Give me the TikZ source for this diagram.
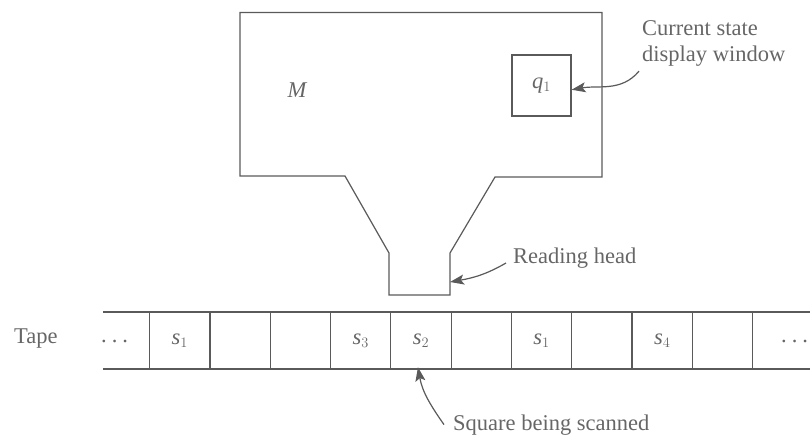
\documentclass[tikz,border=0pt]{standalone}
\usepackage{fontspec}
\setmainfont{Liberation Serif}
\usetikzlibrary{arrows.meta,positioning}
\definecolor{ink}{HTML}{5A5A5A}
\definecolor{print}{HTML}{666666}

\begin{document}
\begin{tikzpicture}[
  x=1pt, y=-1pt,
  outline/.style={draw=ink, line width=1.2pt, line join=miter},
  cell/.style={draw=ink, line width=1.2pt, anchor=north west, inner sep=0pt,
    minimum width=60.3pt, minimum height=57pt, text=print},
  label/.style={text=print, font=\fontsize{22.5}{26}\selectfont, inner sep=1pt},
  pointer/.style={draw=ink, line width=1.2pt, -{Stealth[length=14pt, width=10pt, inset=3pt]}}
]
\useasboundingbox (0,0) rectangle (810,437);

\draw[outline] (240,12.5) -- (602,12.5) -- (602,177) -- (495,177) -- (450,253)
  -- (450,295) -- (389,295) -- (389,253) -- (345,176) -- (240,176) -- cycle;
\coordinate (headtip) at (450,282);

\node[label, font=\fontsize{22.5}{26}\selectfont\itshape] (machine) at (297,90) {M};
\node[outline, minimum width=59pt, minimum height=61pt, inner sep=0pt,
  label, draw=ink] (state) at (541.5,85.5) {\textit{q}$_1$};

\draw[outline] (103,312) -- (810,312);
\draw[outline] (103,369) -- (810,369);
\foreach \sym [count=\i from 0] in {{\textit{s}$_1$},{},{},{\textit{s}$_3$},{\textit{s}$_2$},{},{\textit{s}$_1$},{},{\textit{s}$_4$},{}}
  \node[cell, font=\fontsize{22.5}{26}\selectfont] (c\i) at ({149+60.3*\i},312) {\sym};

\node[label, anchor=base west] (tapelabel) at (13,343) {Tape};
\node[label, anchor=base west] (ldots) at (100,342) {.\hspace{5pt}.\hspace{5pt}.};
\node[label, anchor=base west] (rdots) at (780,342) {.\hspace{5pt}.\hspace{5pt}.};

\node[label, anchor=north west, align=left, font=\fontsize{22.5}{26}\selectfont]
  (current) at (641,19) {Current state\\display window};
\node[label, anchor=base west] (reading) at (512,263) {Reading head};
\node[label, anchor=base west] (scanned) at (452,430) {Square being scanned};

\draw[pointer] ([xshift=-2pt,yshift=-4pt]current.south west) to[out=-130, in=10] (state.-8);
\draw[pointer] ([xshift=-6pt]reading.base west) to[out=-150, in=10] (headtip);
\draw[pointer] ([xshift=-8pt]scanned.west) to[out=125, in=-80] ([xshift=-3pt,yshift=3pt]c4.south);
\end{tikzpicture}
\end{document}
